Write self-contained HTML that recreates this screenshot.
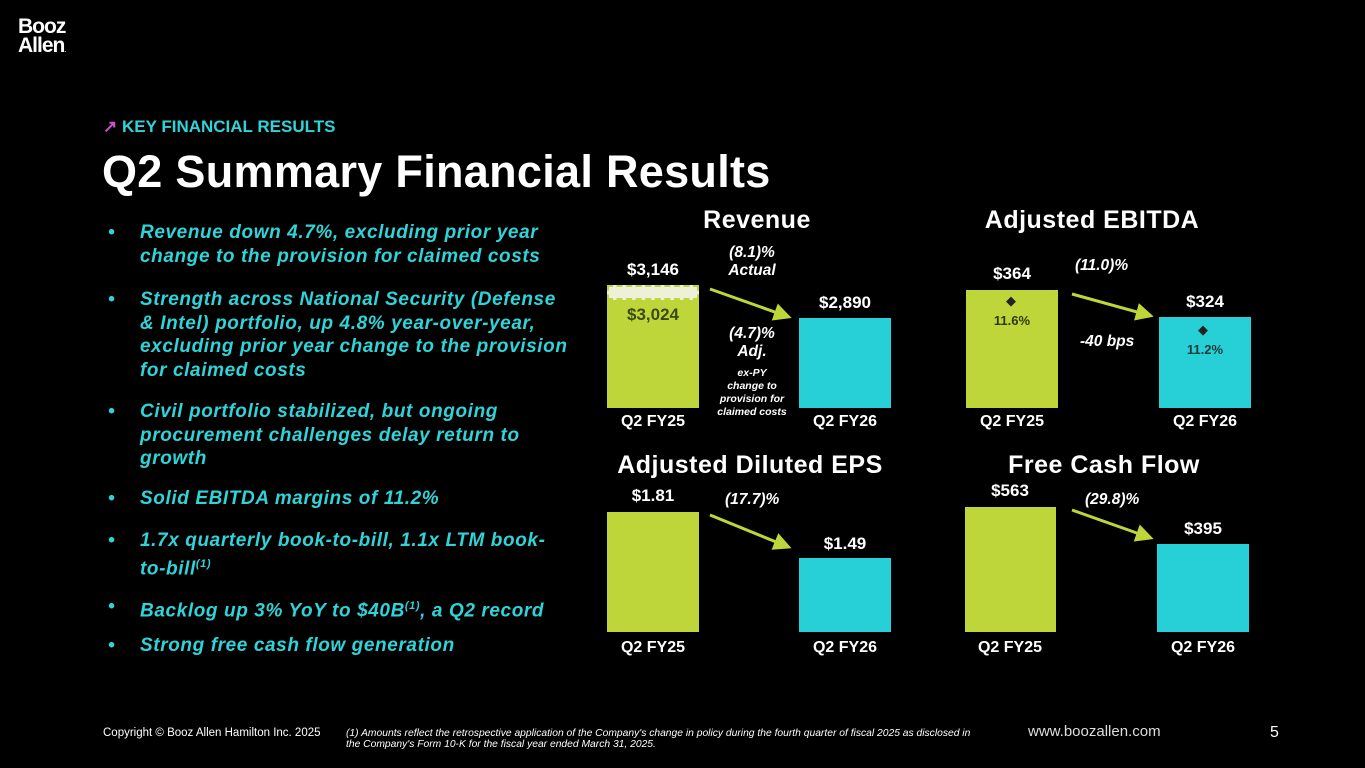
<!DOCTYPE html>
<html><head><meta charset="utf-8"><style>
body{margin:0;background:#000;}
#s{position:relative;width:1365px;height:768px;background:#000;overflow:hidden;font-family:"Liberation Sans",sans-serif;color:#fff}
.a{position:absolute;white-space:nowrap}
.b{position:absolute}
.t{font-weight:bold;font-size:25px;letter-spacing:0.5px;text-align:center;width:320px}
.v{font-weight:bold;font-size:17px;text-align:center;width:120px}
.x{font-weight:bold;font-size:16px;text-align:center;width:120px}
.p{font-weight:bold;font-style:italic;font-size:15.5px}
.bl{position:absolute;left:108px;color:#2fd3d8;font-weight:bold;font-style:italic;font-size:19px;letter-spacing:0.6px;line-height:23.5px}
.bl span{position:absolute;left:0}
.bl div{margin-left:32px}
</style></head><body><div id="s">
<div class="a" style="left:18px;top:17px;font-weight:bold;font-size:21px;line-height:19px;letter-spacing:-1px">Booz<br>Allen<span style="font-size:6px">.</span></div>
<div class="a" style="left:103px;top:117px;font-size:17px;font-weight:bold;color:#2fd3d8"><span style="color:#d050c8">&#8599;</span> KEY FINANCIAL RESULTS</div>
<div class="a" style="left:102px;top:146px;font-size:45px;font-weight:bold;letter-spacing:0.3px">Q2 Summary Financial Results</div>

<div class="bl" style="top:221px"><span>•</span><div>Revenue down 4.7%, excluding prior year<br>change to the provision for claimed costs</div></div>
<div class="bl" style="top:288px"><span>•</span><div>Strength across National Security (Defense<br>&amp; Intel) portfolio, up 4.8% year-over-year,<br>excluding prior year change to the provision<br>for claimed costs</div></div>
<div class="bl" style="top:400px"><span>•</span><div>Civil portfolio stabilized, but ongoing<br>procurement challenges delay return to<br>growth</div></div>
<div class="bl" style="top:487px"><span>•</span><div>Solid EBITDA margins of 11.2%</div></div>
<div class="bl" style="top:529px"><span>•</span><div>1.7x quarterly book-to-bill, 1.1x LTM book-<br>to-bill<sup style="font-size:11px">(1)</sup></div></div>
<div class="bl" style="top:595px"><span>•</span><div>Backlog up 3% YoY to $40B<sup style="font-size:11px">(1)</sup>, a Q2 record</div></div>
<div class="bl" style="top:634px"><span>•</span><div>Strong free cash flow generation</div></div>

<!-- Revenue -->
<div class="a t" style="left:597px;top:206px">Revenue</div>
<div class="b" style="left:607px;top:300px;width:92px;height:108px;background:#bfd63a"></div>
<div class="b" style="left:607px;top:285px;width:88px;height:11px;background:#eef0d8;border:2px dashed #bfd63a"></div>
<div class="a v" style="left:593px;top:260px">$3,146</div>
<div class="a v" style="left:593px;top:305px;color:#3a4a10">$3,024</div>
<div class="b" style="left:799px;top:318px;width:92px;height:90px;background:#26d0d6"></div>
<div class="a v" style="left:785px;top:293px">$2,890</div>
<div class="a x" style="left:593px;top:413px">Q2 FY25</div>
<div class="a x" style="left:785px;top:413px">Q2 FY26</div>
<div class="a p" style="left:712px;top:244px;text-align:center;width:80px;line-height:18px">(8.1)%<br>Actual</div>
<div class="a p" style="left:712px;top:325px;text-align:center;width:80px;line-height:18px">(4.7)%<br>Adj.</div>
<div class="a" style="left:702px;top:367px;width:100px;text-align:center;font-weight:bold;font-style:italic;font-size:10.5px;line-height:13px">ex-PY<br>change to<br>provision for<br>claimed costs</div>

<!-- EBITDA -->
<div class="a t" style="left:932px;top:206px">Adjusted EBITDA</div>
<div class="b" style="left:966px;top:290px;width:92px;height:118px;background:#bfd63a"></div>
<div class="a v" style="left:952px;top:264px">$364</div>
<div class="a" style="left:1006px;top:293px;font-size:13px;color:#222">◆</div>
<div class="a v" style="left:952px;top:313px;font-size:13px;color:#2a3a0a">11.6%</div>
<div class="b" style="left:1159px;top:317px;width:92px;height:91px;background:#26d0d6"></div>
<div class="a v" style="left:1145px;top:292px">$324</div>
<div class="a" style="left:1198px;top:322px;font-size:13px;color:#222">◆</div>
<div class="a v" style="left:1145px;top:342px;font-size:13px;color:#1a3a3a">11.2%</div>
<div class="a p" style="left:1075px;top:257px">(11.0)%</div>
<div class="a p" style="left:1080px;top:333px">-40 bps</div>
<div class="a x" style="left:952px;top:413px">Q2 FY25</div>
<div class="a x" style="left:1145px;top:413px">Q2 FY26</div>

<!-- EPS -->
<div class="a t" style="left:590px;top:451px">Adjusted Diluted EPS</div>
<div class="b" style="left:607px;top:512px;width:92px;height:120px;background:#bfd63a"></div>
<div class="a v" style="left:593px;top:486px">$1.81</div>
<div class="b" style="left:799px;top:558px;width:92px;height:74px;background:#26d0d6"></div>
<div class="a v" style="left:785px;top:534px">$1.49</div>
<div class="a p" style="left:725px;top:491px">(17.7)%</div>
<div class="a x" style="left:593px;top:639px">Q2 FY25</div>
<div class="a x" style="left:785px;top:639px">Q2 FY26</div>

<!-- FCF -->
<div class="a t" style="left:944px;top:451px">Free Cash Flow</div>
<div class="b" style="left:965px;top:507px;width:91px;height:125px;background:#bfd63a"></div>
<div class="a v" style="left:950px;top:481px">$563</div>
<div class="b" style="left:1157px;top:544px;width:92px;height:88px;background:#26d0d6"></div>
<div class="a v" style="left:1143px;top:519px">$395</div>
<div class="a p" style="left:1085px;top:491px">(29.8)%</div>
<div class="a x" style="left:950px;top:639px">Q2 FY25</div>
<div class="a x" style="left:1143px;top:639px">Q2 FY26</div>

<svg class="b" style="left:0;top:0" width="1365" height="768">
<defs><marker id="m" markerWidth="6" markerHeight="6" refX="4" refY="3" orient="auto"><path d="M0,0L6,3L0,6z" fill="#bfd63a"/></marker></defs>
<g stroke="#bfd63a" stroke-width="3" marker-end="url(#m)">
<line x1="710" y1="289" x2="786" y2="316"/>
<line x1="1072" y1="294" x2="1148" y2="315"/>
<line x1="710" y1="515" x2="786" y2="546"/>
<line x1="1072" y1="510" x2="1148" y2="537"/>
</g></svg>

<div class="a" style="left:103px;top:727px;font-size:11.5px">Copyright © Booz Allen Hamilton Inc. 2025</div>
<div class="a" style="left:346px;top:728px;font-size:10.3px;font-style:italic;line-height:11px">(1) Amounts reflect the retrospective application of the Company's change in policy during the fourth quarter of fiscal 2025 as disclosed in<br>the Company's Form 10-K for the fiscal year ended March 31, 2025.</div>
<div class="a" style="left:1028px;top:723px;font-size:15px;color:#ddd">www.boozallen.com</div>
<div class="a" style="left:1270px;top:724px;font-size:16px">5</div>
</div></body></html>
